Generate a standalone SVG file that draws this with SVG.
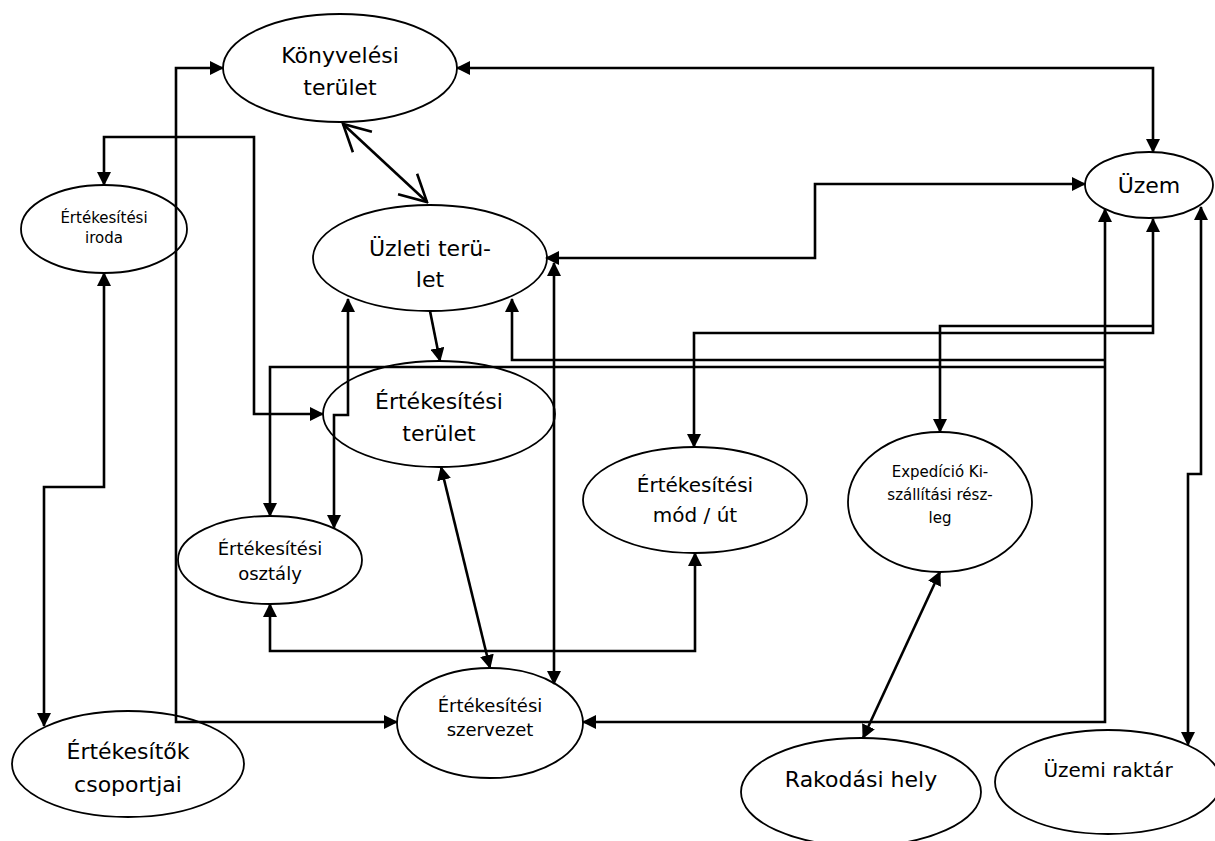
<svg xmlns="http://www.w3.org/2000/svg" width="1215" height="841" viewBox="0 0 1215 841">
<style>
  .node ellipse { fill: #ffffff; stroke: #000000; stroke-width: 1.8; }
  .node text { font-family: "DejaVu Sans", "Liberation Sans", sans-serif; text-anchor: middle; fill: #000000; }
  .big { font-size: 22px; }
  .mid { font-size: 20px; }
  .sm { font-size: 18px; }
  .xs { font-size: 15px; }
  #connectors path { fill: none; stroke: #000000; stroke-width: 2.6; }
  .both { marker-start: url(#ah); marker-end: url(#ah); }
  .end { marker-end: url(#ah); }
  .open { marker-start: url(#oh); marker-end: url(#oh); }
</style>
<defs>
  <marker id="ah" markerUnits="userSpaceOnUse" viewBox="0 0 14 14" markerWidth="14" markerHeight="14" refX="13" refY="7" orient="auto-start-reverse">
    <path d="M0,0 L14,7 L0,14 z" fill="#000000"/>
  </marker>
  <marker id="oh" markerUnits="userSpaceOnUse" viewBox="-30 -16 32 32" markerWidth="32" markerHeight="32" refX="0" refY="0" orient="auto-start-reverse">
    <path d="M-26.5,-14 L0,0 L-26.5,14" fill="none" stroke="#000000" stroke-width="2.6"/>
  </marker>
</defs>
<rect x="0" y="0" width="1215" height="841" fill="#ffffff"/>

<g id="konyvelesi-terulet" class="node">
  <ellipse cx="340" cy="68" rx="117" ry="54"/>
  <text class="big" x="340" y="63">Könyvelési</text>
  <text class="big" x="340" y="95">terület</text>
</g>
<g id="ertekesitesi-iroda" class="node">
  <ellipse cx="104" cy="229" rx="83" ry="44"/>
  <text class="xs" x="104" y="223">Értékesítési</text>
  <text class="xs" x="104" y="243">iroda</text>
</g>
<g id="uzleti-terulet" class="node">
  <ellipse cx="430" cy="258" rx="117" ry="53"/>
  <text class="big" x="430" y="256">Üzleti terü-</text>
  <text class="big" x="430" y="287">let</text>
</g>
<g id="ertekesitesi-terulet" class="node">
  <ellipse cx="439" cy="414" rx="116" ry="53"/>
  <text class="big" x="439" y="409">Értékesítési</text>
  <text class="big" x="439" y="441">terület</text>
</g>
<g id="uzem" class="node">
  <ellipse cx="1149" cy="185" rx="64" ry="33"/>
  <text class="big" x="1149" y="193">Üzem</text>
</g>
<g id="ertekesitesi-osztaly" class="node">
  <ellipse cx="270" cy="560" rx="92" ry="44"/>
  <text class="sm" x="270" y="555">Értékesítési</text>
  <text class="sm" x="270" y="580">osztály</text>
</g>
<g id="ertekesitesi-mod-ut" class="node">
  <ellipse cx="695" cy="500" rx="112" ry="53"/>
  <text class="mid" x="695" y="492">Értékesítési</text>
  <text class="mid" x="695" y="522">mód / út</text>
</g>
<g id="expedicio" class="node">
  <ellipse cx="940" cy="502" rx="92" ry="70"/>
  <text class="xs" x="940" y="477">Expedíció Ki-</text>
  <text class="xs" x="940" y="500">szállítási rész-</text>
  <text class="xs" x="940" y="523">leg</text>
</g>
<g id="ertekesitesi-szervezet" class="node">
  <ellipse cx="490" cy="723" rx="93" ry="55"/>
  <text class="sm" x="490" y="712">Értékesítési</text>
  <text class="sm" x="490" y="736">szervezet</text>
</g>
<g id="ertekesitok-csoportjai" class="node">
  <ellipse cx="128" cy="764" rx="116" ry="53"/>
  <text class="big" x="128" y="759">Értékesítők</text>
  <text class="big" x="128" y="792">csoportjai</text>
</g>
<g id="rakodasi-hely" class="node">
  <ellipse cx="861" cy="792" rx="120" ry="54"/>
  <text class="big" x="861" y="787">Rakodási hely</text>
</g>
<g id="uzemi-raktar" class="node">
  <ellipse cx="1108" cy="782" rx="113" ry="52"/>
  <text class="mid" x="1108" y="777">Üzemi raktár</text>
</g>

<g id="connectors">
  <path class="both" d="M223,68 L176,68 L176,722 L397,722"/>
  <path class="both" d="M457,68 L1153,68 L1153,152"/>
  <path class="open" d="M343,124 L427,202"/>
  <path class="both" d="M104,185 L104,137 L254,137 L254,414 L323,414"/>
  <path class="both" d="M104,273 L104,487 L44,487 L44,726"/>
  <path class="both" d="M546,258 L815,258 L815,184 L1085,184"/>
  <path class="both" d="M554,263 L554,684"/>
  <path class="end" d="M430,311 L440,361"/>
  <path class="both" d="M348,299 L348,415 L334,415 L334,528"/>
  <path class="both" d="M441,467 L490,668"/>
  <path class="both" d="M270,604 L270,651 L695,651 L695,553"/>
  <path class="both" d="M1153,219 L1153,333 L694,333 L694,447"/>
  <path class="end" d="M1153,326 L940,326 L940,432"/>
  <path class="both" d="M1105,209 L1105,722 L583,722"/>
  <path class="end" d="M1105,360 L512,360 L512,299"/>
  <path class="end" d="M1105,367 L270,367 L270,516"/>
  <path class="both" d="M1201,207 L1201,474 L1188,474 L1188,745"/>
  <path class="both" d="M940,572 L863,738"/>
</g>
</svg>
